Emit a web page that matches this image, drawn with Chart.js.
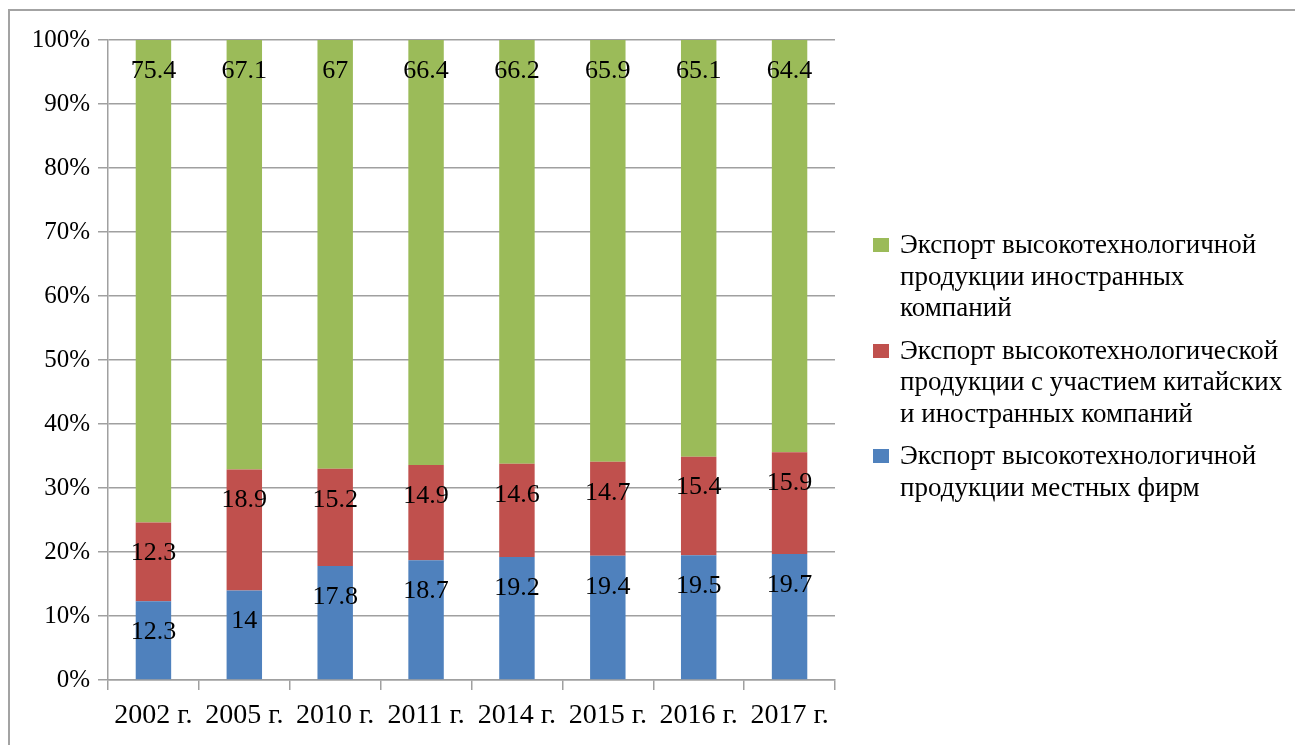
<!DOCTYPE html>
<html lang="ru">
<head>
<meta charset="utf-8">
<script src="https://cdn.jsdelivr.net/npm/chart.js@4/dist/chart.umd.min.js"></script>
<style>
  html, body { margin: 0; padding: 0; background: #fff; overflow: hidden; }
  #wrap { position: relative; width: 1295px; height: 745px; }
  #frame { position: absolute; left: 8px; top: 9px; width: 1300px; height: 760px;
           border: 2px solid #a3a3a3; box-sizing: border-box; }
  canvas { position: absolute; left: 0; top: 0; }
  #legend { position: absolute; left: 873px; top: 229px; font-family: "Liberation Serif", "Times New Roman", serif;
            font-size: 27px; line-height: 31.5px; color: #000; white-space: nowrap; }
  .item { position: relative; padding-left: 27px; margin-bottom: 11px; }
  .box { position: absolute; left: 0; top: 9px; width: 16px; height: 14px; }
</style>
</head>
<body>
<div id="wrap">
  <div id="frame"></div>
  <canvas id="c" width="1295" height="745"></canvas>
  <div id="legend"></div>
</div>
<script>
const years = ['2002 г.', '2005 г.', '2010 г.', '2011 г.', '2014 г.', '2015 г.', '2016 г.', '2017 г.'];
const localFirms = [12.3, 14, 17.8, 18.7, 19.2, 19.4, 19.5, 19.7];
const jointFirms = [12.3, 18.9, 15.2, 14.9, 14.6, 14.7, 15.4, 15.9];
const foreignFirms = [75.4, 67.1, 67, 66.4, 66.2, 65.9, 65.1, 64.4];
const yTicks = [0, 10, 20, 30, 40, 50, 60, 70, 80, 90, 100];

const seriesNames = [
  ['Экспорт высокотехнологичной', 'продукции местных фирм'],
  ['Экспорт высокотехнологической', 'продукции с участием китайских', 'и иностранных компаний'],
  ['Экспорт высокотехнологичной', 'продукции иностранных', 'компаний']
];

const FONT = '"Liberation Serif", "Times New Roman", serif';
const GRID = '#a0a0a0';

// Value labels drawn just inside the top of each segment
const segmentLabels = {
  id: 'segmentLabels',
  afterDatasetsDraw(chart) {
    const ctx = chart.ctx;
    ctx.save();
    ctx.font = '26px ' + FONT;
    ctx.fillStyle = '#000';
    ctx.textAlign = 'center';
    ctx.textBaseline = 'middle';
    chart.data.datasets.forEach((ds, i) => {
      const meta = chart.getDatasetMeta(i);
      meta.data.forEach((bar, j) => {
        ctx.fillText(String(ds.data[j]), bar.x, bar.y + 31);
      });
    });
    ctx.restore();
  }
};

const chart = new Chart(document.getElementById('c'), {
  type: 'bar',
  data: {
    labels: years,
    datasets: [
      { label: seriesNames[0].join(' '), data: localFirms, backgroundColor: '#4F81BD' },
      { label: seriesNames[1].join(' '), data: jointFirms, backgroundColor: '#C0504D' },
      { label: seriesNames[2].join(' '), data: foreignFirms, backgroundColor: '#9BBB59' }
    ]
  },
  options: {
    responsive: false,
    animation: false,
    layout: { padding: { top: 40, right: 460, left: 0, bottom: 0 } },
    datasets: { bar: { categoryPercentage: 1, barPercentage: 0.39 } },
    plugins: { legend: { display: false }, tooltip: { enabled: false } },
    scales: {
      x: {
        stacked: true,
        afterFit(s) { s.height = 65; },
        grid: { drawOnChartArea: false, drawTicks: true, tickLength: 10, color: GRID, lineWidth: 1.5 },
        border: { color: GRID, width: 1.5 },
        ticks: { color: '#000', font: { family: FONT, size: 28 }, padding: 9, maxRotation: 0, autoSkip: false }
      },
      y: {
        stacked: true,
        min: 0, max: 100,
        afterFit(s) { s.width = 108; },
        afterBuildTicks(s) { s.ticks = yTicks.map(v => ({ value: v })); },
        grid: { color: GRID, lineWidth: 1.5, tickLength: 10 },
        border: { color: GRID, width: 1.5 },
        ticks: { color: '#000', font: { family: FONT, size: 25 }, padding: 8, callback: v => v + '%' }
      }
    }
  },
  plugins: [segmentLabels]
});

// Legend built from the datasets, top series first
const legend = document.getElementById('legend');
chart.data.datasets.slice().reverse().forEach((ds, k) => {
  const idx = chart.data.datasets.length - 1 - k;
  const item = document.createElement('div');
  item.className = 'item';
  const box = document.createElement('span');
  box.className = 'box';
  box.style.background = ds.backgroundColor;
  item.appendChild(box);
  seriesNames[idx].forEach(line => {
    const d = document.createElement('div');
    d.textContent = line;
    item.appendChild(d);
  });
  legend.appendChild(item);
});
</script>
</body>
</html>
